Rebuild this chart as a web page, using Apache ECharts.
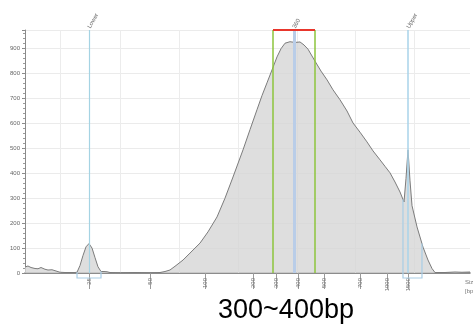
<!DOCTYPE html>
<html>
<head>
<meta charset="utf-8">
<script src="https://cdn.jsdelivr.net/npm/echarts@6/dist/echarts.min.js"></script>
<style>
html,body{margin:0;padding:0;background:#fff;}
#chart{width:473px;height:326px;}
</style>
</head>
<body>
<div id="chart"></div>
<script>
// Electropherogram trace: run position (0-100) vs sample intensity [FU]
const curvePos = [0,0.67,1.35,2.25,2.92,3.6,4.49,5.17,6.07,6.97,7.87,8.99,10.11,11.24,11.69,12.36,13.03,13.71,14.38,15.06,15.73,16.4,17.08,17.75,18.43,19.1,21.35,24.72,28.09,30.34,31.46,32.58,33.93,35.51,37.08,39.33,41.12,43.15,44.94,46.74,48.99,50.56,52.13,53.26,54.38,55.51,56.63,57.53,58.43,59.55,60.67,61.8,62.7,63.6,65.17,66.52,67.87,69.21,70.79,72.36,73.71,75.28,76.85,78.2,79.78,80.9,82.02,83.15,84.27,85.17,85.62,86.07,86.52,86.97,88.09,89.44,90.56,91.46,92.13,94.38,96.63,98.2,100];
const curveFU  = [24,28,22,18,17,22,15,12,13,8,3,2,2,2,3,30,70,105,118,100,62,25,6,6,5,2,1,2,1,2,6,12,30,52,80,120,165,225,300,385,494,575,655,712,763,815,867,900,922,928,925,927,915,898,850,810,775,735,695,650,602,565,526,490,454,428,402,365,325,285,380,494,370,270,185,104,52,18,2,2,4,3,4];

// Ladder (size standard) positions and sizes in bp
const ladderPos = [14.38,28.09,40.45,51.24,56.4,61.35,67.19,75.28,81.35,86.07];
const ladderBp  = ['25','50','100','200','300','400','500','700','1000','1500'];

// Markers: lower marker, sample peak, upper marker
const markerPos   = [14.38,60.45,86.07];
const markerNames = ['Lower','360','Upper'];

// Selected region (300~400bp)
const regionEdges = [55.73,65.17];

// Peak integration boxes: [start, end, FU at start, FU at end]
const peakBoxes = [[11.69,17.08,3,6],[84.94,89.21,295,118]];

// Faint vertical grid positions
const gridPos = [7.87,21.35,34.61,47.87,61.12,74.16,87.42];

const chart = echarts.init(document.getElementById('chart'), null, {renderer:'canvas'});
const lblMap = {};
ladderPos.forEach((p,i)=>{lblMap[p.toFixed(2)] = ladderBp[i];});

const option = {
  animation:false,
  backgroundColor:'#ffffff',
  grid:{left:25,right:3,top:30,bottom:53,containLabel:false,outerBoundsMode:'none'},
  xAxis:{
    type:'value', min:0, max:100,
    axisLine:{show:true,onZero:false,lineStyle:{color:'#6e6e6e',width:1.5}},
    axisTick:{show:true,customValues:ladderPos,length:16,lineStyle:{color:'#9a9a9a',width:1}},
    axisLabel:{show:true,customValues:ladderPos,rotate:90,fontSize:6,color:'#777',margin:5,
      fontFamily:'Liberation Sans',
      formatter:function(v){return lblMap[Number(v).toFixed(2)]||'';}},
    splitLine:{show:false}
  },
  yAxis:{
    type:'value', min:0, max:975, interval:100,
    name:'Sample Intensity [FU]', nameLocation:'middle', nameGap:17, nameRotate:90,
    nameTextStyle:{fontSize:6,color:'#666',fontFamily:'Liberation Sans'},
    axisLine:{show:true,lineStyle:{color:'#8a8a8a',width:1}},
    axisTick:{show:true,length:3,lineStyle:{color:'#8a8a8a'}},
    minorTick:{show:true,splitNumber:5,length:2,lineStyle:{color:'#9a9a9a'}},
    axisLabel:{fontSize:6,color:'#666',margin:5,fontFamily:'Liberation Sans',showMaxLabel:false,
      formatter:function(v){return v%100===0?String(v):'';}},
    splitLine:{show:true,lineStyle:{color:'#ebebeb',width:1}}
  },
  series:[
    {
      name:'grid', type:'line', data:[], silent:true, z:1,
      markLine:{silent:true,symbol:'none',z:1,label:{show:false},
        lineStyle:{color:'#ececec',width:1,type:'solid'},
        data:gridPos.map(p=>({xAxis:p}))}
    },
    {
      name:'trace', type:'line', showSymbol:false, symbol:'none', smooth:false,
      data:curvePos.map((p,i)=>[p,curveFU[i]]),
      lineStyle:{color:'#7b7b7b',width:1},
      areaStyle:{color:'#d6d6d6',opacity:0.8},
      z:3
    },
    {
      name:'markers', type:'line', data:[], silent:true, z:4,
      markLine:{silent:true,symbol:'none',label:{show:false},
        data:[
          {xAxis:markerPos[0],lineStyle:{color:'#a5d3e3',width:1.2,type:'solid'}},
          {xAxis:markerPos[1],lineStyle:{color:'#b9cde8',width:3,type:'solid'}},
          {xAxis:markerPos[2],lineStyle:{color:'#a9d3ea',width:1.5,type:'solid'}},
          {xAxis:regionEdges[0],lineStyle:{color:'#8cc43c',width:1.5,type:'solid'}},
          {xAxis:regionEdges[1],lineStyle:{color:'#8cc43c',width:1.5,type:'solid'}},
          [{coord:[regionEdges[0],975],lineStyle:{color:'#e8362c',width:2,type:'solid'}},{coord:[regionEdges[1],975]}]
        ]}
    },
    {
      name:'boxes', type:'custom', coordinateSystem:'cartesian2d', clip:false, silent:true, z:5,
      data:peakBoxes,
      renderItem:function(params,api){
        const b0=api.coord([api.value(0),0]);
        const b1=api.coord([api.value(1),0]);
        const t0=api.coord([api.value(0),api.value(2)]);
        const t1=api.coord([api.value(1),api.value(3)]);
        return {type:'polyline',shape:{points:[[t0[0],t0[1]],[b0[0],b0[1]+5],[b1[0],b1[1]+5],[t1[0],t1[1]]]},
          style:{stroke:'#a9cde6',lineWidth:1.2,fill:null}};
      }
    },
    {
      name:'markerLabels', type:'scatter', symbolSize:0, silent:true, z:6,
      data:markerPos.map((p,i)=>({value:[p,975],name:markerNames[i]})),
      label:{show:true,position:'top',distance:2,rotate:60,align:'left',verticalAlign:'middle',
        fontSize:6,color:'#444',fontFamily:'Liberation Sans',formatter:function(p){return p.name;}}
    }
  ],
  graphic:[
    {type:'text',left:465,top:279,style:{text:'Size',fontSize:6,fill:'#777',fontFamily:'Liberation Sans'}},
    {type:'text',left:465,top:288,style:{text:'[bp]',fontSize:6,fill:'#777',fontFamily:'Liberation Sans'}},
    {type:'text',x:286,y:311,style:{text:'300~400bp',fontSize:27,fill:'#000',fontFamily:'Liberation Sans',
      textAlign:'center',textVerticalAlign:'middle'}}
  ]
};
chart.setOption(option);
</script>
</body>
</html>
